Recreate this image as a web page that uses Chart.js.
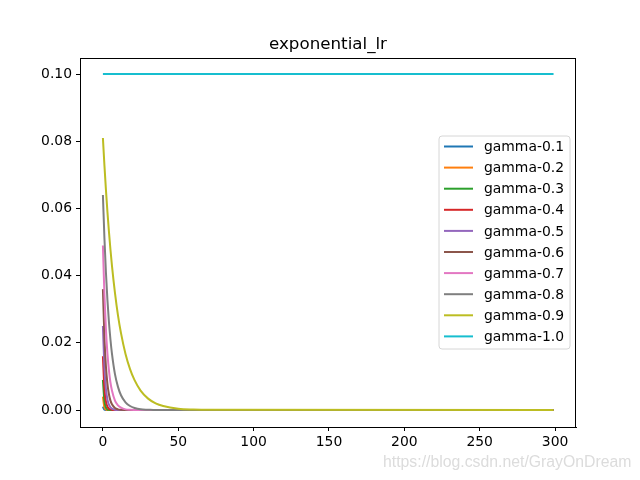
<!DOCTYPE html>
<html>
<head>
<meta charset="utf-8">
<script src="https://cdn.jsdelivr.net/npm/chart.js@4/dist/chart.umd.min.js"></script>
<style>
html,body{margin:0;padding:0;background:#fff;}
#wrap{width:640px;height:480px;position:relative;}
</style>
</head>
<body>
<div id="wrap"><canvas id="c" width="640" height="480"></canvas></div>
<script>
const epochs = [0,1,2,3,4,5,6,8,10,12,15,18,21,25,30,35,40,50,60,70,299];
const seriesLabels = ['gamma-0.1','gamma-0.2','gamma-0.3','gamma-0.4','gamma-0.5','gamma-0.6','gamma-0.7','gamma-0.8','gamma-0.9','gamma-1.0'];
const g01 = [0.001,0.0001,0.00001,0,0,0,0,0,0,0,0,0,0,0,0,0,0,0,0,0,0];
const g02 = [0.004,0.0008,0.00016,0.00003,0,0,0,0,0,0,0,0,0,0,0,0,0,0,0,0,0];
const g03 = [0.009,0.0027,0.0008,0.0002,0.00007,0.00002,0,0,0,0,0,0,0,0,0,0,0,0,0,0,0];
const g04 = [0.016,0.0064,0.0026,0.0010,0.0004,0.0002,0.00007,0.00001,0,0,0,0,0,0,0,0,0,0,0,0,0];
const g05 = [0.025,0.0125,0.0063,0.0031,0.0016,0.0008,0.0004,0.0001,0.00002,0,0,0,0,0,0,0,0,0,0,0,0];
const g06 = [0.036,0.0216,0.0130,0.0078,0.0047,0.0028,0.0017,0.0006,0.0002,0.00008,0.00002,0,0,0,0,0,0,0,0,0,0];
const g07 = [0.049,0.0343,0.0240,0.0168,0.0118,0.0082,0.0058,0.0028,0.0014,0.0007,0.0002,0.00008,0.00003,0,0,0,0,0,0,0,0];
const g08 = [0.064,0.0512,0.0410,0.0328,0.0262,0.0210,0.0168,0.0107,0.0069,0.0044,0.0023,0.0012,0.0006,0.0002,0.0001,0.00002,0,0,0,0,0];
const g09 = [0.081,0.0729,0.0656,0.0590,0.0531,0.0478,0.0430,0.0349,0.0282,0.0229,0.0167,0.0122,0.0089,0.0058,0.0034,0.0020,0.0012,0.0004,0.00015,0.00005,0];
const g10 = [0.1,0.1,0.1,0.1,0.1,0.1,0.1,0.1,0.1,0.1,0.1,0.1,0.1,0.1,0.1,0.1,0.1,0.1,0.1,0.1,0.1];
const seriesValues = [g01,g02,g03,g04,g05,g06,g07,g08,g09,g10];
const xTicks = [0,50,100,150,200,250,300];
const yTicks = [0.00,0.02,0.04,0.06,0.08,0.10];
const chartTitle = 'exponential_lr';
const watermark = 'https://blog.csdn.net/GrayOnDream';

const colors = ['#1f77b4','#ff7f0e','#2ca02c','#d62728','#9467bd','#8c564b','#e377c2','#7f7f7f','#bcbd22','#17becf'];
const FONT = 'DejaVu Sans';

const datasets = seriesLabels.map((lab,i)=>({
  label: lab,
  data: epochs.map((x,j)=>({x:x, y:seriesValues[i][j]})),
  borderColor: colors[i],
  backgroundColor: colors[i],
  borderWidth: 2,
  pointRadius: 0,
  fill: false,
  cubicInterpolationMode: 'monotone',
  order: 10 - i
}));

const decor = {
  id: 'decor',
  afterDraw(chart){
    const ctx = chart.ctx;
    const a = chart.chartArea;
    ctx.save();
    ctx.strokeStyle = '#000';
    ctx.lineWidth = 1;
    ctx.strokeRect(Math.round(a.left)+0.5, Math.round(a.top)+0.5, Math.round(a.right-a.left)-1, Math.round(a.bottom-a.top));
    ctx.fillStyle = '#000';
    ctx.font = '16.7px "' + FONT + '"';
    ctx.textAlign = 'center';
    ctx.textBaseline = 'alphabetic';
    ctx.fillText(chartTitle, (a.left+a.right)/2, a.top - 9);
    const lx = 439, ly = 136, lw = 131, lh = 213, r = 3;
    ctx.beginPath();
    ctx.moveTo(lx+r, ly);
    ctx.lineTo(lx+lw-r, ly); ctx.quadraticCurveTo(lx+lw, ly, lx+lw, ly+r);
    ctx.lineTo(lx+lw, ly+lh-r); ctx.quadraticCurveTo(lx+lw, ly+lh, lx+lw-r, ly+lh);
    ctx.lineTo(lx+r, ly+lh); ctx.quadraticCurveTo(lx, ly+lh, lx, ly+lh-r);
    ctx.lineTo(lx, ly+r); ctx.quadraticCurveTo(lx, ly, lx+r, ly);
    ctx.closePath();
    ctx.fillStyle = 'rgba(255,255,255,0.8)';
    ctx.fill();
    ctx.strokeStyle = '#d6d6d6';
    ctx.lineWidth = 1;
    ctx.stroke();
    ctx.font = '13.9px "' + FONT + '"';
    ctx.textAlign = 'left';
    ctx.textBaseline = 'middle';
    chart.data.datasets.forEach((ds,i)=>{
      const y = 146.5 + i*21.1;
      ctx.strokeStyle = ds.borderColor;
      ctx.lineWidth = 2;
      ctx.beginPath();
      ctx.moveTo(444, y); ctx.lineTo(473, y);
      ctx.stroke();
      ctx.fillStyle = '#000';
      ctx.fillText(ds.label, 484, y+1);
    });
    ctx.font = '15.8px "Liberation Sans"';
    ctx.fillStyle = '#dcdcdc';
    ctx.textAlign = 'left';
    ctx.textBaseline = 'alphabetic';
    ctx.fillText(watermark, 383, 467);
    ctx.restore();
  }
};

new Chart(document.getElementById('c'), {
  type: 'line',
  data: { datasets },
  options: {
    responsive: false,
    animation: false,
    devicePixelRatio: 1,
    layout: { padding: { top: 58, right: 64, left: 0, bottom: 0 } },
    plugins: { legend: { display: false }, title: { display: false }, tooltip: { enabled: false } },
    scales: {
      x: {
        type: 'linear',
        min: -15.2, max: 313.9,
        afterBuildTicks: s => { s.ticks = xTicks.map(v=>({value:v})); },
        afterFit: s => { s.height = 53; },
        grid: { drawOnChartArea: false, drawTicks: true, tickLength: 4, color: '#000', tickColor: '#000' },
        border: { display: true, color: '#000', width: 1 },
        ticks: { color: '#000', font: { family: FONT, size: 13.9 }, padding: 3, maxRotation: 0, autoSkip: false, callback: v => String(v) }
      },
      y: {
        type: 'linear',
        min: -0.00505, max: 0.1048,
        afterBuildTicks: s => { s.ticks = yTicks.map(v=>({value:v})); },
        afterFit: s => { s.width = 80; },
        grid: { drawOnChartArea: false, drawTicks: true, tickLength: 4, color: '#000', tickColor: '#000' },
        border: { display: true, color: '#000', width: 1 },
        ticks: { color: '#000', font: { family: FONT, size: 13.9 }, padding: 4, autoSkip: false, callback: v => Number(v).toFixed(2) }
      }
    }
  },
  plugins: [decor]
});
</script>
</body>
</html>
